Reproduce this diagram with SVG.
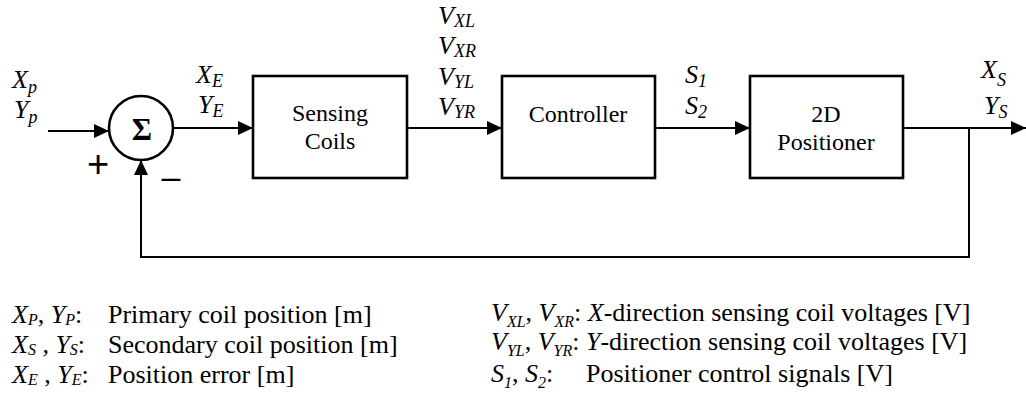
<svg xmlns="http://www.w3.org/2000/svg" width="1026" height="410" viewBox="0 0 1026 410" font-family="'Liberation Serif','Times New Roman',serif">
  <style>
    .box{fill:#fff;stroke:#000;stroke-width:2.6}
    .ln{fill:none;stroke:#000;stroke-width:2}
    text{font-family:"Liberation Serif","Times New Roman",serif}
    .sign{font-family:"Liberation Sans",Arial,sans-serif}
  </style>
  <defs>
    <marker id="arrow" markerUnits="userSpaceOnUse" markerWidth="16" markerHeight="16" refX="15" refY="7" orient="auto">
      <path d="M0,0 L15,7 L0,14 z" fill="#000"/>
    </marker>
  </defs>

  <rect width="1026" height="410" fill="#fff"/>

  <!-- connectors -->
  <g id="connectors" class="ln" marker-end="url(#arrow)">
    <line x1="48" y1="131" x2="109" y2="131"/>
    <line x1="174" y1="128" x2="253" y2="128"/>
    <line x1="407" y1="128" x2="502" y2="128"/>
    <line x1="655" y1="128" x2="750" y2="128"/>
    <line x1="903" y1="128" x2="1026" y2="128"/>
    <polyline points="969,128 969,257 141,257 141,160"/>
  </g>

  <!-- summing junction -->
  <g id="sum">
    <circle cx="141" cy="128" r="32" fill="#fff" stroke="#000" stroke-width="2.6"/>
    <text x="142" y="140" font-size="31" font-weight="bold" text-anchor="middle">Σ</text>
    <text class="sign" x="98" y="177" font-size="38" text-anchor="middle">+</text>
    <text class="sign" x="171" y="188" font-size="34" text-anchor="middle">–</text>
  </g>

  <g id="sensing-coils" font-size="24" text-anchor="middle">
    <rect class="box" x="253" y="76" width="154" height="102"/>
    <text x="330" y="121">Sensing</text>
    <text x="330" y="149">Coils</text>
  </g>

  <g id="controller" font-size="24" text-anchor="middle">
    <rect class="box" x="502" y="76" width="153" height="102"/>
    <text x="578" y="122">Controller</text>
  </g>

  <g id="positioner" font-size="24" text-anchor="middle">
    <rect class="box" x="750" y="76" width="153" height="102"/>
    <text x="826" y="122">2D</text>
    <text x="826" y="150">Positioner</text>
  </g>

  <!-- signal labels -->
  <g id="signal-labels" font-size="26" font-style="italic">
    <text x="12" y="88">X<tspan font-size="18" dy="5">p</tspan></text>
    <text x="14" y="118">Y<tspan font-size="18" dy="5">p</tspan></text>
    <text x="196" y="83">X<tspan font-size="18" dy="4">E</tspan></text>
    <text x="198" y="113">Y<tspan font-size="18" dy="4">E</tspan></text>
    <text x="438" y="24">V<tspan font-size="18" dy="3">XL</tspan></text>
    <text x="438" y="54">V<tspan font-size="18" dy="3">XR</tspan></text>
    <text x="438" y="85">V<tspan font-size="18" dy="3">YL</tspan></text>
    <text x="438" y="115">V<tspan font-size="18" dy="3">YR</tspan></text>
    <text x="685" y="83">S<tspan font-size="18" dy="4">1</tspan></text>
    <text x="685" y="114">S<tspan font-size="18" dy="4">2</tspan></text>
    <text x="981" y="78">X<tspan font-size="18" dy="8">S</tspan></text>
    <text x="984" y="114">Y<tspan font-size="18" dy="4">S</tspan></text>
  </g>

  <!-- legend -->
  <g id="legend" font-size="26">
    <text x="12" y="323"><tspan font-style="italic">X</tspan><tspan font-style="italic" font-size="16" dy="2">P</tspan><tspan dy="-2">, </tspan><tspan font-style="italic">Y</tspan><tspan font-style="italic" font-size="16" dy="2">P</tspan><tspan dy="-2">:</tspan></text>
    <text x="108" y="323">Primary coil position [m]</text>
    <text x="12" y="353"><tspan font-style="italic">X</tspan><tspan font-style="italic" font-size="16" dy="2">S</tspan><tspan dy="-2"> , </tspan><tspan font-style="italic">Y</tspan><tspan font-style="italic" font-size="16" dy="2">S</tspan><tspan dy="-2">:</tspan></text>
    <text x="108" y="353">Secondary coil position [m]</text>
    <text x="12" y="383"><tspan font-style="italic">X</tspan><tspan font-style="italic" font-size="16" dy="2">E</tspan><tspan dy="-2"> , </tspan><tspan font-style="italic">Y</tspan><tspan font-style="italic" font-size="16" dy="2">E</tspan><tspan dy="-2">:</tspan></text>
    <text x="108" y="383">Position error [m]</text>

    <text x="491" y="321"><tspan font-style="italic">V</tspan><tspan font-style="italic" font-size="16" dy="6">XL</tspan><tspan dy="-6">, </tspan><tspan font-style="italic">V</tspan><tspan font-style="italic" font-size="16" dy="6">XR</tspan><tspan dy="-6">: </tspan><tspan font-style="italic">X</tspan>-direction sensing coil voltages [V]</text>
    <text x="491" y="350"><tspan font-style="italic">V</tspan><tspan font-style="italic" font-size="16" dy="6">YL</tspan><tspan dy="-6">, </tspan><tspan font-style="italic">V</tspan><tspan font-style="italic" font-size="16" dy="6">YR</tspan><tspan dy="-6">: </tspan><tspan font-style="italic">Y</tspan>-direction sensing coil voltages [V]</text>
    <text x="491" y="382"><tspan font-style="italic">S</tspan><tspan font-style="italic" font-size="16" dy="6">1</tspan><tspan dy="-6">, </tspan><tspan font-style="italic">S</tspan><tspan font-style="italic" font-size="16" dy="6">2</tspan><tspan dy="-6">:</tspan></text>
    <text x="586" y="382">Positioner control signals [V]</text>
  </g>
</svg>
